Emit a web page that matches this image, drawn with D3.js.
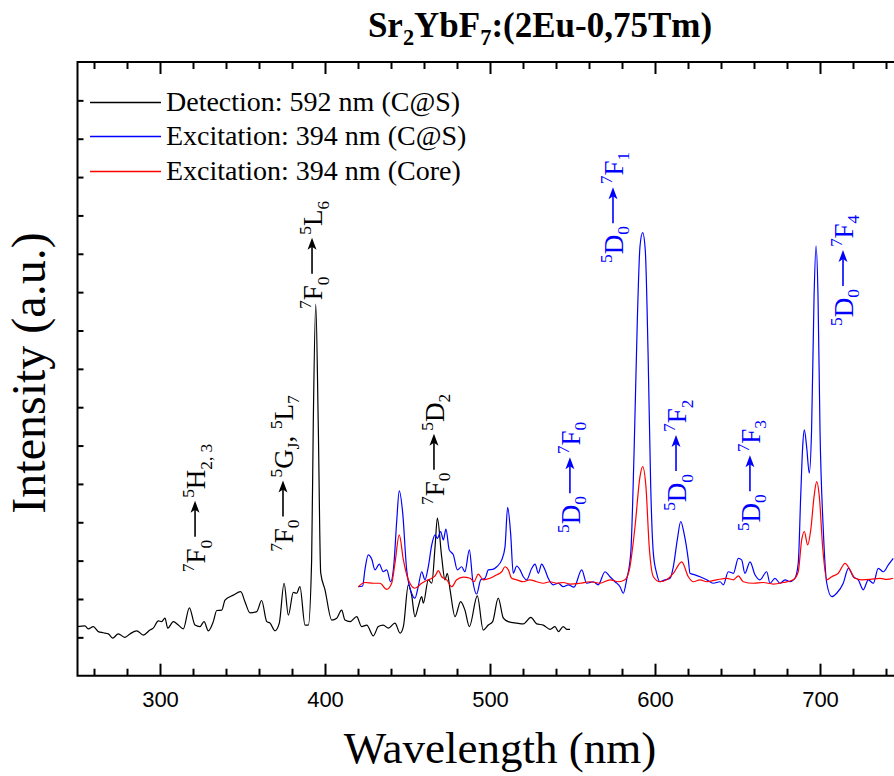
<!DOCTYPE html>
<html lang="en">
<head>
  <meta charset="UTF-8">
  <title>Sr2YbF7:(2Eu-0,75Tm)</title>
  <style>
    html, body { margin: 0; padding: 0; background: #fff; overflow: hidden; }
    svg { display: block; }
  </style>
</head>
<body>
  <svg id="chart" width="894" height="776"></svg>

  <script src="https://d3js.org/d3.v7.min.js"></script>
  <script>
    // spectra: [wavelength nm, intensity a.u.]
    const detectionCS = [
      [250,128],[254.5,130],[256.5,122],[259.6,128],[262.6,115],[265.6,112],[268.7,109],[271.3,98],
      [274.7,109],[278.8,100],[281.8,109],[285.9,117],[289.9,106],[293.9,119],[295.9,124],[299,143],
      [301,141],[303,150],[304.7,124],[308.1,141],[311.1,132],[314.1,122],[317.8,177],[321.2,132],
      [324.2,128],[326.7,141],[329.3,117],[332.3,141],[334.4,170],[337.4,171],[339.4,197],[344.4,210],
      [348.9,219],[351.5,193],[354.5,164],[358.6,167],[361.6,196],[364.7,141],[366.7,137],[369.7,117],
      [372.3,137],[375.2,241],[377.8,158],[380.8,217],[382.8,215],[384.8,232],[387.9,132],[389.9,132],
      [391.9,302],[392.9,659],[394.4,969],[395.9,659],[397.4,268],[400,224],[404.1,145],[407.1,150],
      [410.1,171],[412.1,145],[415.2,141],[419.2,154],[422.2,128],[425.3,132],[429.3,104],[432.3,128],
      [435.3,132],[438.4,124],[442.4,137],[445.5,111],[447.5,128],[450.5,237],[452.5,210],[454.5,154],
      [456.5,180],[458.6,206],[459.6,189],[462.6,250],[464.7,241],[466.7,336],[468.1,411],[470.7,310],
      [472.7,250],[474.1,267],[475.8,224],[478.8,154],[482.2,193],[484.8,171],[487.5,128],[492.3,208],
      [495.9,119],[499,132],[501.6,141],[505,202],[508.1,150],[511.1,141],[516.2,137],[520.2,135],
      [524.8,152],[528.3,135],[532.3,132],[536.4,121],[539.4,128],[541.4,115],[544.4,128],[546.5,121],
      [548.5,121]
    ];

    const excitationCS = [
      [420.2,232],[422.8,234],[424.2,276],[426.2,315],[428.3,304],[430.3,276],[432.9,291],[435.3,271],
      [437.4,276],[439.8,245],[441.8,293],[443.5,406],[445,482],[447.1,424],[449.5,276],[452.5,215],
      [454.5,202],[456.5,232],[458.6,271],[460.6,250],[462.6,284],[464.7,341],[466.7,367],[468.1,358],
      [470.1,376],[471.7,354],[473.3,382],[475.3,328],[477.8,315],[480.2,276],[482.8,284],[484.8,271],
      [487.5,328],[489.5,250],[491.9,213],[494.4,250],[497,254],[499,276],[501.6,277],[504.1,284],
      [507.1,302],[509.1,336],[510.7,439],[512.5,371],[514.1,267],[516.2,286],[518.2,276],[520.2,258],
      [522.2,250],[525.3,280],[527.3,291],[529.3,267],[531.3,291],[533.3,276],[535.3,254],[538.4,237],
      [541.4,241],[544.4,232],[547.5,237],[550.9,231],[555.6,276],[558.6,241],[562.6,245],[565.6,237],
      [569.7,271],[572.7,258],[575.8,245],[578.8,232],[580.8,215],[582.8,250],[585.3,319],[587.3,580],
      [589.3,928],[590.9,1119],[592.5,1155],[594.1,1110],[595.8,841],[597.4,493],[599,319],[601,267],
      [603,245],[606.1,250],[609.1,254],[611.1,284],[613.5,354],[615.6,402],[617.6,371],[620.2,302],
      [621.2,267],[624.2,263],[627.3,258],[631.3,250],[635.3,241],[639.4,245],[641.4,237],[644.4,271],
      [647.5,267],[650.5,306],[652.5,302],[654.5,267],[657.6,297],[660.6,263],[663.6,250],[667.7,271],
      [669.7,241],[672.7,254],[675.8,241],[678.8,250],[681.8,245],[684.8,254],[686.8,293],[688.3,467],
      [689.5,597],[690.5,641],[691.9,597],[693.5,528],[694.9,641],[696.4,988],[697.6,1121],[698.8,988],
      [700,641],[702,380],[704.1,241],[707.1,206],[710.1,215],[714.1,241],[717.2,280],[720.2,258],
      [723.2,250],[726.2,224],[729.3,250],[732.3,241],[735.3,280],[738.4,271],[741.4,289],[744.4,306]
    ];

    const excitationCore = [
      [420.2,232],[424.2,243],[429.3,241],[433.3,241],[437.4,225],[440.4,241],[442.4,293],[445,367],
      [447.5,302],[450.5,250],[454.5,228],[458.6,241],[461.6,248],[464.7,254],[466.7,260],[468.7,274],
      [470.7,258],[473.8,250],[476.8,232],[479.8,250],[483.8,257],[487.9,254],[490.3,245],[492.9,265],
      [495.9,250],[500,254],[504.1,263],[507.1,271],[509.1,284],[511.1,276],[513.1,254],[516.2,250],
      [520.2,245],[524.2,250],[528.3,245],[532.3,241],[536.4,245],[540.4,241],[544.4,243],[548.5,239],
      [554.5,241],[560.6,245],[566.7,241],[572.7,250],[577.8,245],[581.8,250],[584.8,284],[587.9,389],
      [590.9,519],[592.5,545],[594.5,493],[596.5,336],[599,258],[603,245],[607.1,250],[611.1,267],
      [616.2,297],[620.2,258],[623.2,245],[627.3,250],[631.3,245],[637.4,250],[643.5,254],[647.5,250],
      [650.5,260],[653.5,245],[659.6,241],[665.6,243],[671.7,239],[677.8,243],[683.8,250],[686.8,271],
      [688.9,354],[690.5,376],[692.5,341],[694.4,380],[696.4,467],[698,506],[699.6,467],[701.6,336],
      [704.1,250],[707.1,258],[711.1,267],[715.2,293],[718.2,276],[721.2,254],[725.3,250],[730.3,251],
      [736.4,254],[740.4,251],[744.4,254]
    ];

    const seriesNames = ["Detection: 592 nm (C@S)", "Excitation: 394 nm (C@S)", "Excitation: 394 nm (Core)"];
    const seriesColors = ["#000000", "#0000ff", "#ff0000"];

    const xMajorTicks = [300, 400, 500, 600, 700];
    const xMinorTicks = d3.range(260, 900, 20).filter(v => v % 100 !== 0);
    const yTicks = d3.range(100, 1600, 100);

    // transition labels: [wavelength, intensity] anchor, lower level, upper level
    const transitions = [
      { at: [327.3, 270], color: "#000", from: [["7","sup"],["F"],["0","sub"]], to: [["5","sup"],["H"],["2, 3","sub"]] },
      { at: [380.6, 323], color: "#000", from: [["7","sup"],["F"],["0","sub"]], to: [["5","sup"],["G"],["J","sub"],[", "],["5","sup"],["L"],["7","sub"]] },
      { at: [398.2, 956], color: "#000", from: [["7","sup"],["F"],["0","sub"]], to: [["5","sup"],["L"],["6","sub"]] },
      { at: [472.1, 445], color: "#000", from: [["7","sup"],["F"],["0","sub"]], to: [["5","sup"],["D"],["2","sub"]] },
      { at: [554.5, 372], color: "#0000ff", from: [["5","sup"],["D"],["0","sub"]], to: [["7","sup"],["F"],["0","sub"]] },
      { at: [580.6, 1076], color: "#0000ff", from: [["5","sup"],["D"],["0","sub"]], to: [["7","sup"],["F"],["1","sub"]] },
      { at: [618.8, 430], color: "#0000ff", from: [["5","sup"],["D"],["0","sub"]], to: [["7","sup"],["F"],["2","sub"]] },
      { at: [663.6, 377], color: "#0000ff", from: [["5","sup"],["D"],["0","sub"]], to: [["7","sup"],["F"],["3","sub"]] },
      { at: [720.0, 912], color: "#0000ff", from: [["5","sup"],["D"],["0","sub"]], to: [["7","sup"],["F"],["4","sub"]] }
    ];

    const SERIF = '"Liberation Serif", "Times New Roman", Times, serif';
    const SANS = '"Liberation Sans", Arial, Helvetica, sans-serif';

    const svg = d3.select("#chart");
    const plotLeft = 77.5, plotTop = 62, plotBottom = 675.7;

    // the frame runs past the right edge of the picture
    const x = d3.scaleLinear().domain([250, 800]).range([plotLeft, plotLeft + 550 * 1.65]);
    const y = d3.scaleLinear().domain([0, 1600]).range([plotBottom, plotTop]);

    // writes text with super/subscripts into a <text>
    function rich(textSel, parts, size) {
      let shift = 0;
      parts.forEach(([t, kind]) => {
        const target = kind === "sup" ? -size * 0.42 : kind === "sub" ? size * 0.24 : 0;
        textSel.append("tspan")
          .attr("dy", target - shift)
          .style("font-size", kind ? (size * 0.64) + "px" : size + "px")
          .text(t);
        shift = target;
      });
    }

    // axes
    const axisBottomMajor = d3.axisBottom(x).tickValues(xMajorTicks).tickSize(-12).tickPadding(15.5).tickSizeOuter(0);
    const axisBottomMinor = d3.axisBottom(x).tickValues(xMinorTicks).tickSize(-7).tickFormat("").tickSizeOuter(0);
    const axisTopMajor = d3.axisTop(x).tickValues(xMajorTicks).tickSize(-12).tickFormat("").tickSizeOuter(0);
    const axisTopMinor = d3.axisTop(x).tickValues(xMinorTicks).tickSize(-7).tickFormat("").tickSizeOuter(0);
    const axisLeftTicks = d3.axisLeft(y).tickValues(yTicks).tickSize(-6).tickFormat("").tickSizeOuter(0);

    function styleAxis(g) {
      g.select(".domain").remove();
      g.selectAll(".tick line").attr("stroke", "#000").attr("stroke-width", 2);
      g.selectAll(".tick text").attr("fill", "#000").style("font-family", SANS).style("font-size", "22px");
    }

    svg.append("g").attr("transform", `translate(0,${plotBottom})`).call(axisBottomMajor).call(styleAxis);
    svg.append("g").attr("transform", `translate(0,${plotBottom})`).call(axisBottomMinor).call(styleAxis);
    svg.append("g").attr("transform", `translate(0,${plotTop})`).call(axisTopMajor).call(styleAxis);
    svg.append("g").attr("transform", `translate(0,${plotTop})`).call(axisTopMinor).call(styleAxis);
    svg.append("g").attr("transform", `translate(${plotLeft},0)`).call(axisLeftTicks).call(styleAxis);

    // frame
    svg.append("path")
      .attr("d", `M${x.range()[1]},${plotTop} H${plotLeft} V${plotBottom} H${x.range()[1]}`)
      .attr("fill", "none").attr("stroke", "#000").attr("stroke-width", 2);

    // curves
    const line = d3.line()
      .x(d => x(d[0]))
      .y(d => y(d[1]))
      .curve(d3.curveMonotoneX);

    [detectionCS, excitationCS, excitationCore].forEach((s, i) => {
      svg.append("path")
        .datum(s)
        .attr("d", line)
        .attr("fill", "none")
        .attr("stroke", seriesColors[i])
        .attr("stroke-width", 1.2)
        .attr("stroke-linejoin", "round");
    });

    // transition labels, read bottom to top
    transitions.forEach(a => {
      const g = svg.append("g")
        .attr("transform", `translate(${x(a.at[0])},${y(a.at[1])}) rotate(-90)`)
        .attr("fill", a.color)
        .style("font-family", SERIF);
      const t1 = g.append("text").attr("x", 0).attr("y", 0);
      rich(t1, a.from, 27);
      const l1 = t1.node().getComputedTextLength();
      const a0 = l1 + 3, a1 = a0 + 36;
      g.append("line")
        .attr("x1", a0).attr("y1", -10).attr("x2", a1 - 8).attr("y2", -10)
        .attr("stroke", a.color).attr("stroke-width", 1.6);
      g.append("path")
        .attr("d", `M${a1},-10 L${a1 - 12},-14.5 L${a1 - 9},-10 L${a1 - 12},-5.5 Z`)
        .attr("fill", a.color);
      const t2 = g.append("text").attr("x", a1 + 3).attr("y", 0);
      rich(t2, a.to, 27);
    });

    // legend
    const legend = svg.append("g");
    seriesNames.forEach((name, i) => {
      const ly = 101.5 + i * 34.5;
      legend.append("line")
        .attr("x1", 90).attr("x2", 161).attr("y1", Math.round(ly) + 0.5).attr("y2", Math.round(ly) + 0.5)
        .attr("stroke", seriesColors[i]).attr("stroke-width", 1.4);
      legend.append("text")
        .attr("x", 166).attr("y", ly + 9)
        .style("font-family", SERIF).style("font-size", "28px")
        .attr("fill", "#000")
        .text(name);
    });

    // title
    const title = svg.append("text")
      .attr("x", 540).attr("y", 37)
      .attr("text-anchor", "middle")
      .style("font-family", SERIF).style("font-weight", "bold")
      .attr("fill", "#000");
    rich(title, [["Sr"],["2","sub"],["YbF"],["7","sub"],[":(2Eu-0,75Tm)"]], 35);

    // axis titles
    svg.append("text")
      .attr("x", 500).attr("y", 763)
      .attr("text-anchor", "middle")
      .style("font-family", SERIF).style("font-size", "45px")
      .text("Wavelength (nm)");

    svg.append("text")
      .attr("transform", "translate(45,373) rotate(-90)")
      .attr("text-anchor", "middle")
      .style("font-family", SERIF).style("font-size", "48px")
      .text("Intensity (a.u.)");
  </script>
</body>
</html>
